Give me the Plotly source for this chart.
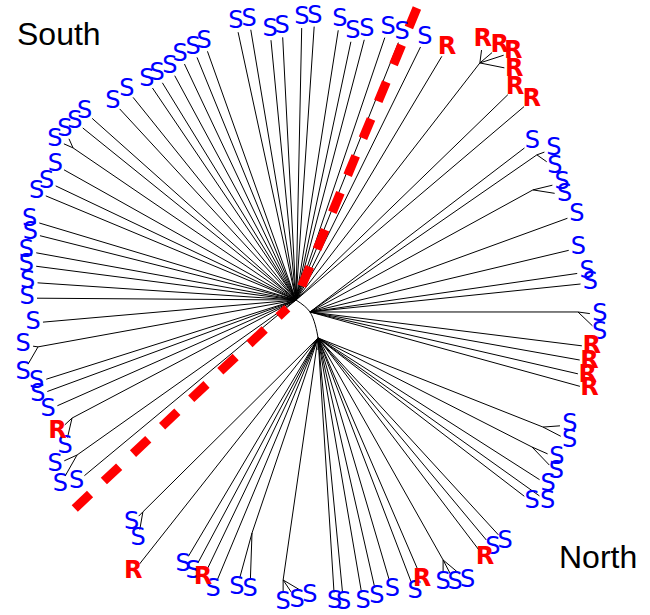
import numpy as np
import plotly.graph_objects as go

# Unrooted tree: the root hub sits at (0, 0); the other hubs lie on the curved backbone.
hub_names = ["A", "B", "C", "D"]
hub_angle = [0.0, -40.6, -59.9, -66.3]      # degrees from the root
hub_length = [0.0, 18.4, 43.9, 54.6]

# Small clades: (hub, angle, branch length) of the clade node
clade_ids = ["c1", "c2", "c3", "c4", "c5", "c6", "c7", "c8", "c9", "c10", "c11", "c12", "c13", "c14"]
clade_hub = ["A", "A", "A", "A", "A", "B", "B", "B", "C", "C", "C", "C", "C", "C"]
clade_angle = [215.3, 207.8, 190.3, 145.7, 52.2, 34.7, 28.7, 0.0, -21.6, -27.0, -60.6, 261.8, 251.3, 224.8]
clade_length = [268.3, 253.2, 262.2, 269.9, 300.0, 276.0, 254.2, 268.0, 242.0, 240.2, 254.8, 244.5, 205.9, 246.8]

# Leaves: label, parent (hub or clade), angle, branch length
leaf_label = (
    ["S", "S", "S", "S", "S", "S", "S", "S", "S", "S", "S", "S", "S", "S", "S", "S", "S",
     "S", "S", "S", "S", "S", "S", "S", "S", "S", "S", "S", "S", "S", "S", "S", "S", "S",
     "S", "S", "R", "R", "R"]
    + ["S", "S", "S", "S", "S", "R", "R", "R", "R"]
    + ["S", "S", "S", "S", "S", "R", "R", "S", "S", "S", "S", "S", "S", "S", "R", "S", "S", "R"]
    + ["S", "S", "R", "S", "S", "S", "S", "S", "R", "R", "R", "R", "S", "S", "S", "S", "S", "S",
       "S", "S", "S", "S", "S", "S", "S", "S", "S", "S", "S", "S", "S", "S", "S", "S", "S", "S"]
)
leaf_parent = (
    ["A"] * 39
    + ["B"] * 9
    + ["C"] * 18
    + ["c1", "c1", "c2", "c2", "c3", "c3", "c4", "c4", "c5", "c5", "c5", "c5", "c6", "c6",
       "c7", "c7", "c8", "c8", "c9", "c9", "c10", "c10", "c11", "c11", "c11", "c12", "c12",
       "c12", "c13", "c13", "c14", "c14"]
)
leaf_angle = (
    [219.7, 203.9, 200.2, 197.6, 185.0, 179.6, 176.2, 172.6, 169.7, 165.9, 163.3, 157.4,
     154.6, 150.7, 141.1, 138.3, 132.7, 128.8, 124.1, 121.6, 118.4, 115.3, 112.2, 109.6,
     102.2, 99.5, 95.5, 92.9, 88.8, 86.2, 81.1, 78.0, 75.3, 71.3, 68.3, 63.8, 59.1, 44.1, 40.3]
    + [37.4, 20.0, 13.4, 8.2, 5.9, -7.1, -10.1, -13.0, -15.4]
    + [-32.6, -35.5, -37.5, -47.5, -50.2, -52.8, -66.7, -69.1, -73.6, -77.2, -80.3, -84.5,
       -86.4, 247.4, 244.4, 241.9, 239.3, 231.7]
    + [204.4, 240.5, 223.0, 256.9, 172.0, 240.0, 156.0, 114.0, 82.6, 40.4, 18.0, 348.7,
       20.0, -35.0, 13.6, -9.0, -7.8, -43.7, 4.2, -27.4, -23.7, -46.2, -90.0, -62.4, -40.0,
       270.0, 303.7, 329.3, 254.7, 268.0, 225.0, 260.0]
)
leaf_length = (
    [275, 261, 265, 262, 254, 259, 259, 262, 264, 264, 268, 271, 266, 266, 274, 273, 260,
     260, 256, 255, 255, 261, 262, 264, 274, 274, 261, 263, 272, 274, 273, 264, 269, 277,
     277, 282, 284, 295, 299]
    + [270, 274, 266, 270, 272, 274, 274, 275, 280]
    + [263, 272, 260, 267, 263, 266, 253, 262, 253, 256, 258, 256, 255, 263, 256, 255, 254, 288]
    + [14, 24, 10, 20, 5, 20, 10, 10, 13, 16, 25, 25, 8, 12, 20, 22, 12, 20, 17, 20, 17, 25,
       13, 16, 22, 13, 15, 21, 47, 47, 6, 18]
)

# Boundary between the two regions: (angle, inner radius, outer radius)
divider_angle = [67.5, 223.3]
divider_inner = [7.0, 12.0]
divider_outer = [316.0, 304.0]

LABEL_GAP = 10.0


def polar(angle, length, origin=(0.0, 0.0)):
    t = np.deg2rad(angle)
    return origin[0] + length * np.cos(t), origin[1] + length * np.sin(t)


nodes = {}
for n, a, l in zip(hub_names, hub_angle, hub_length):
    nodes[n] = polar(a, l)
for c, h, a, l in zip(clade_ids, clade_hub, clade_angle, clade_length):
    nodes[c] = polar(a, l, nodes[h])

edge_x, edge_y = [], []
for c, h in zip(clade_ids, clade_hub):
    edge_x += [nodes[h][0], nodes[c][0], None]
    edge_y += [nodes[h][1], nodes[c][1], None]

lab = {"S": ([], []), "R": ([], [])}
for name, p, a, l in zip(leaf_label, leaf_parent, leaf_angle, leaf_length):
    tip = polar(a, l, nodes[p])
    edge_x += [nodes[p][0], tip[0], None]
    edge_y += [nodes[p][1], tip[1], None]
    pos = polar(a, l + LABEL_GAP, nodes[p])
    lab[name][0].append(pos[0])
    lab[name][1].append(pos[1])

fig = go.Figure()

# curved backbone joining the hubs
fig.add_trace(go.Scatter(
    x=[nodes[n][0] for n in hub_names], y=[nodes[n][1] for n in hub_names],
    mode="lines", line=dict(color="black", width=1, shape="spline"), hoverinfo="skip"))

fig.add_trace(go.Scatter(x=edge_x, y=edge_y, mode="lines",
                         line=dict(color="black", width=1), hoverinfo="skip"))

for a, r0, r1 in zip(divider_angle, divider_inner, divider_outer):
    p0 = polar(a, r1)
    p1 = polar(a, r0)
    fig.add_trace(go.Scatter(x=[p0[0], p1[0]], y=[p0[1], p1[1]], mode="lines",
                             line=dict(color="#ff0000", width=9, dash="21px,19px"),
                             hoverinfo="skip"))

fig.add_trace(go.Scatter(
    x=lab["S"][0], y=lab["S"][1], mode="text", text=["S"] * len(lab["S"][0]),
    textposition="middle center",
    textfont=dict(family="DejaVu Sans", size=24, color="#0000ff"), hoverinfo="skip"))
fig.add_trace(go.Scatter(
    x=lab["R"][0], y=lab["R"][1], mode="text", text=["R"] * len(lab["R"][0]),
    textposition="middle center",
    textfont=dict(family="DejaVu Sans", size=24, color="#ff0000", weight="bold"),
    hoverinfo="skip"))

fig.add_annotation(x=-281, y=266, text="South", showarrow=False, xanchor="left",
                   yanchor="middle", font=dict(family="Liberation Sans", size=32, color="black"))
fig.add_annotation(x=261, y=-257, text="North", showarrow=False, xanchor="left",
                   yanchor="middle", font=dict(family="Liberation Sans", size=32, color="black"))

fig.update_layout(
    width=650, height=615, margin=dict(l=0, r=0, t=0, b=0),
    paper_bgcolor="white", plot_bgcolor="white", showlegend=False,
    xaxis=dict(range=[-296, 354], visible=False, fixedrange=True),
    yaxis=dict(range=[-315, 300], visible=False, fixedrange=True),
)

fig.write_html("out.html")
